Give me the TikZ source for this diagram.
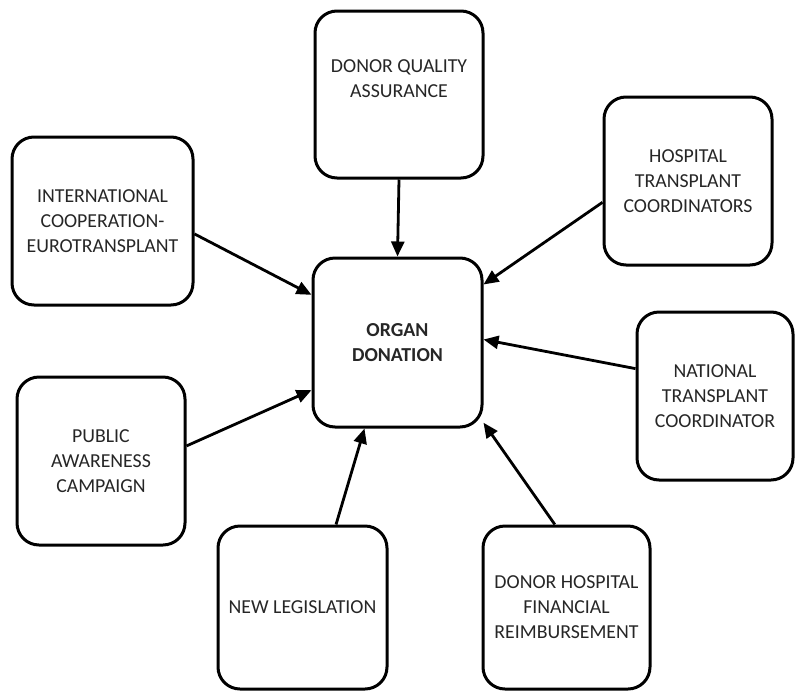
\documentclass[tikz,border=0pt]{standalone}
\usepackage{fontspec}
\setmainfont{Carlito}
\usetikzlibrary{arrows.meta}

\begin{document}
\begin{tikzpicture}[x=1pt, y=-1pt,
  box/.style={draw, line width=3pt, rounded corners=22pt, align=center,
    inner sep=0pt, font=\fontsize{19.8}{25}\selectfont, text=black!85},
  link/.style={-{Triangle[length=15pt,width=13pt]}, line width=2.8pt}]
\useasboundingbox (0,0) rectangle (795,691);
\node[box, minimum width=169, minimum height=169] (organ) at (397.5, 342.5) {\textbf{ORGAN}\\\textbf{DONATION}};
\node[box, minimum width=168, minimum height=167] (quality) at (399, 94.5) {DONOR QUALITY\\ASSURANCE\\[6pt]};
\node[box, minimum width=168, minimum height=168] (hosp) at (688, 181) {HOSPITAL\\TRANSPLANT\\COORDINATORS};
\node[box, minimum width=156, minimum height=168] (natl) at (715, 396) {NATIONAL\\TRANSPLANT\\COORDINATOR};
\node[box, minimum width=167, minimum height=163] (reimb) at (566.5, 607.5) {DONOR HOSPITAL\\FINANCIAL\\REIMBURSEMENT};
\node[box, minimum width=169, minimum height=163] (legis) at (302.5, 607.5) {NEW LEGISLATION};
\node[box, minimum width=168, minimum height=168] (public) at (101, 461) {PUBLIC\\AWARENESS\\CAMPAIGN};
\node[box, minimum width=181, minimum height=168] (intl) at (102.5, 221) {INTERNATIONAL\\COOPERATION-\\EUROTRANSPLANT};

\draw[link] (quality.south) -- (organ.north);
\draw[link] (hosp.194) -- (organ.34);
\draw[link] (natl.161) -- (organ.2);
\draw[link] (reimb.98) -- (organ.-43);
\draw[link] (legis.68) -- (organ.-111);
\draw[link] (public.10) -- (organ.209);
\draw[link] (intl.-8) -- (organ.151);

\end{tikzpicture}
\end{document}
